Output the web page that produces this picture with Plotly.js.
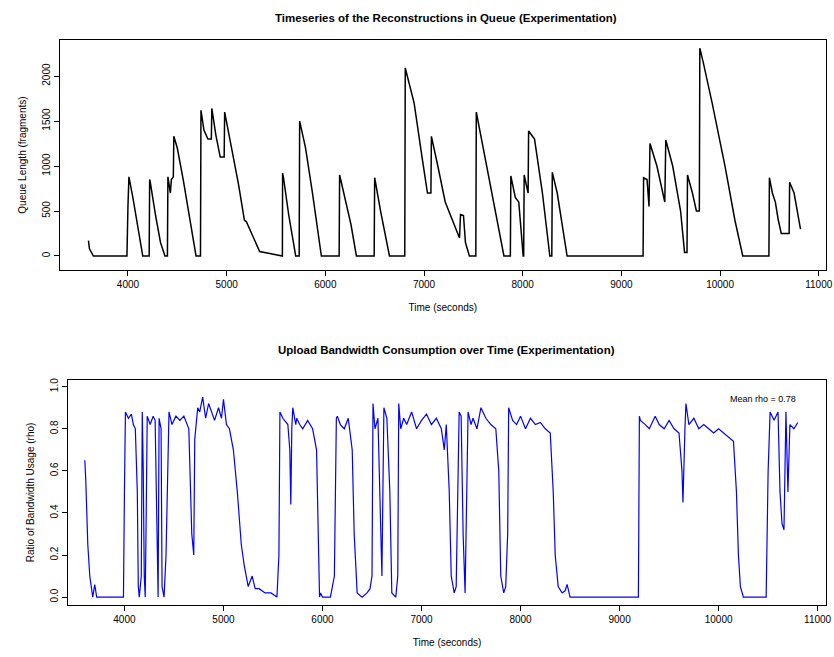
<!DOCTYPE html>
<html><head><meta charset="utf-8">
<script src="https://cdn.plot.ly/plotly-3.0.1.min.js"></script>
<style>body{margin:0}</style></head><body>
<div id="c" style="width:834px;height:657px"></div>
<script>
const queueTime=[3600,3610,3650,3990,4000,4010,4050,4100,4150,4215,4220,4225,4280,4330,4375,4400,4405,4430,4440,4460,4465,4500,4560,4620,4690,4735,4740,4770,4810,4845,4850,4890,4935,4975,4980,5050,5120,5180,5200,5335,5565,5567,5575,5630,5700,5735,5740,5800,5870,5960,6140,6145,6200,6260,6315,6495,6500,6560,6650,6805,6810,6900,6980,7035,7070,7075,7140,7215,7360,7370,7400,7420,7460,7525,7530,7600,7700,7810,7875,7880,7925,7960,8005,8010,8015,8055,8060,8120,8200,8275,8295,8300,8350,8450,9220,9225,9260,9280,9290,9360,9440,9450,9520,9600,9640,9665,9670,9720,9760,9790,9795,9830,9920,10050,10150,10230,10495,10500,10530,10560,10590,10620,10700,10705,10750,10815];
const queueVal=[170,80,0,0,550,880,650,300,0,0,850,830,450,150,0,0,880,700,850,880,1330,1200,850,450,0,0,1620,1400,1300,1300,1640,1350,1100,1100,1600,1200,800,400,380,50,0,920,880,450,0,0,1500,1200,700,0,0,900,650,350,0,0,870,500,0,0,2090,1700,1100,700,700,1330,1000,600,200,460,450,150,0,0,1600,1200,600,0,0,890,650,600,0,0,900,700,1390,1300,700,0,0,930,700,0,0,870,850,550,1250,1000,600,1290,1000,500,40,40,900,700,500,500,2310,2150,1700,1000,400,0,0,870,700,600,400,250,250,820,700,300];
const bwTime=[3600,3610,3630,3650,3680,3700,3720,3990,4000,4010,4040,4070,4090,4110,4130,4140,4150,4170,4180,4190,4200,4210,4220,4230,4260,4290,4310,4330,4340,4350,4370,4380,4400,4420,4450,4480,4520,4560,4600,4650,4680,4700,4710,4740,4760,4790,4820,4850,4880,4910,4950,4980,5000,5030,5060,5100,5140,5180,5210,5250,5290,5320,5360,5420,5480,5540,5560,5570,5600,5630,5650,5670,5680,5690,5700,5730,5740,5770,5800,5850,5900,5940,5960,5970,5980,6000,6080,6120,6140,6150,6180,6220,6260,6300,6320,6350,6400,6450,6480,6500,6510,6530,6560,6580,6600,6620,6650,6680,6700,6740,6760,6770,6790,6820,6850,6900,6950,7000,7050,7100,7150,7200,7230,7250,7280,7300,7330,7350,7380,7400,7420,7440,7470,7500,7520,7560,7600,7650,7700,7750,7780,7800,7830,7850,7870,7880,7920,7960,8000,8050,8100,8150,8200,8250,8300,8330,8350,8380,8420,8450,8470,8500,8520,8550,9190,9200,9210,9260,9300,9360,9400,9450,9500,9550,9600,9630,9640,9660,9670,9700,9750,9800,9850,9900,9950,10000,10050,10100,10150,10180,10200,10220,10250,10300,10400,10480,10500,10520,10560,10600,10620,10640,10660,10680,10700,10720,10760,10800];
const bwVal=[0.65,0.55,0.25,0.1,0,0.06,0,0,0.5,0.88,0.85,0.87,0.82,0.8,0.5,0.05,0,0.1,0.88,0.6,0.1,0,0.4,0.86,0.82,0.86,0.84,0.3,0,0.85,0.8,0.05,0,0.2,0.88,0.82,0.86,0.84,0.86,0.8,0.3,0.2,0.75,0.9,0.88,0.95,0.85,0.92,0.88,0.84,0.9,0.85,0.94,0.82,0.8,0.7,0.5,0.25,0.15,0.05,0.1,0.04,0.04,0.02,0.02,0,0.2,0.88,0.85,0.83,0.82,0.7,0.44,0.8,0.9,0.82,0.85,0.82,0.8,0.84,0.8,0.7,0.3,0,0.02,0,0,0.1,0.85,0.86,0.82,0.8,0.85,0.7,0.3,0.02,0,0.02,0.04,0.1,0.92,0.8,0.85,0.5,0.1,0.9,0.85,0.5,0.02,0,0.1,0.92,0.8,0.85,0.82,0.88,0.8,0.84,0.87,0.82,0.85,0.8,0.7,0.82,0.5,0.1,0.02,0.05,0.88,0.86,0.3,0.02,0.88,0.82,0.85,0.8,0.9,0.85,0.82,0.8,0.6,0.1,0.02,0.05,0.3,0.9,0.84,0.82,0.86,0.8,0.85,0.82,0.83,0.8,0.78,0.5,0.2,0.05,0.02,0.03,0.06,0,0,0,0,0.86,0.84,0.82,0.8,0.86,0.82,0.8,0.84,0.8,0.78,0.6,0.45,0.8,0.92,0.82,0.85,0.8,0.82,0.8,0.78,0.8,0.78,0.76,0.74,0.5,0.2,0.05,0,0,0,0,0.6,0.88,0.84,0.88,0.5,0.35,0.32,0.88,0.5,0.82,0.8,0.83];
const xTicks=[4000,5000,6000,7000,8000,9000,10000,11000];
const xTickText=['4000','5000','6000','7000','8000','9000','10000','11000'];
const axBase={showline:true,linecolor:'#000',mirror:true,ticks:'outside',ticklen:5,tickcolor:'#000',showgrid:false,zeroline:false,tickfont:{size:10,color:'#000'}};
const layout={width:834,height:657,margin:{l:0,r:0,t:0,b:0},showlegend:false,paper_bgcolor:'#fff',plot_bgcolor:'#fff',
font:{family:'Liberation Sans, Arial, sans-serif',color:'#000'},
xaxis:Object.assign({},axBase,{domain:[0.072,0.99],range:[3312,11070],tickvals:xTicks,ticktext:xTickText,title:{text:'Time (seconds)',font:{size:10},standoff:14},anchor:'y'}),
yaxis:Object.assign({},axBase,{domain:[0.589,0.939],range:[-156,2400],tickvals:[0,500,1000,1500,2000],ticktext:['0','500','1000','1500','2000'],tickangle:-90,title:{text:'Queue Length (fragments)',font:{size:10},standoff:12},anchor:'x'}),
xaxis2:Object.assign({},axBase,{domain:[0.082,0.99],range:[3434,11081],tickvals:xTicks,ticktext:xTickText,title:{text:'Time (seconds)',font:{size:10},standoff:14},anchor:'y2'}),
yaxis2:Object.assign({},axBase,{domain:[0.079,0.422],range:[-0.038,1.033],tickvals:[0,0.2,0.4,0.6,0.8,1],ticktext:['0.0','0.2','0.4','0.6','0.8','1.0'],tickangle:-90,title:{text:'Ratio of Bandwidth Usage (rho)',font:{size:10},standoff:12},anchor:'x2'}),
annotations:[
{text:'<b>Timeseries of the Reconstructions in Queue (Experimentation)</b>',xref:'paper',yref:'paper',x:0.535,y:0.985,showarrow:false,font:{size:11.5}},
{text:'<b>Upload Bandwidth Consumption over Time (Experimentation)</b>',xref:'paper',yref:'paper',x:0.535,y:0.468,showarrow:false,font:{size:11.5}},
{text:'Mean rho = 0.78',xref:'x2',yref:'y2',x:10450,y:0.94,showarrow:false,font:{size:9}}]};
Plotly.newPlot('c',[
{x:queueTime,y:queueVal,type:'scatter',mode:'lines',line:{color:'#000',width:1.5},xaxis:'x',yaxis:'y'},
{x:bwTime,y:bwVal,type:'scatter',mode:'lines',line:{color:'#0000ff',width:1.2},xaxis:'x2',yaxis:'y2'}
],layout,{displayModeBar:false});
</script></body></html>
